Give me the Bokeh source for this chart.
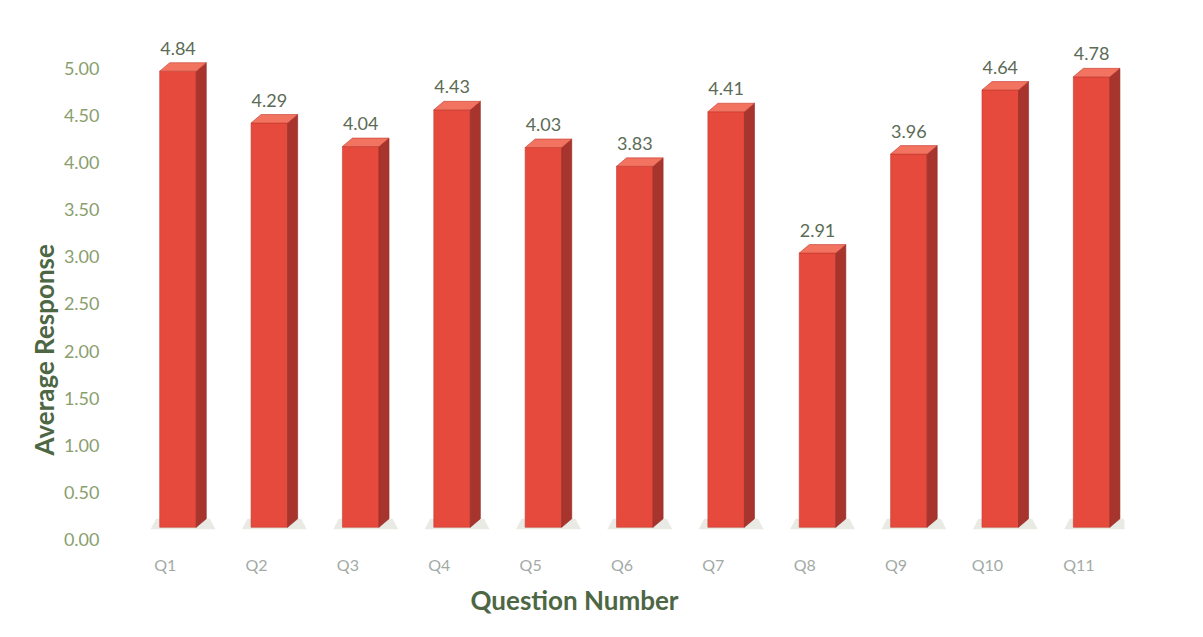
from bokeh.plotting import figure
from bokeh.models import Range1d, FixedTicker, ColumnDataSource, LabelSet, Title
from bokeh.core.properties import value
from bokeh.embed import file_html
from bokeh.resources import INLINE

questions = ["Q1", "Q2", "Q3", "Q4", "Q5", "Q6", "Q7", "Q8", "Q9", "Q10", "Q11"]
averages = [4.84, 4.29, 4.04, 4.43, 4.03, 3.83, 4.41, 2.91, 3.96, 4.64, 4.78]
y_ticks = [0.0, 0.5, 1.0, 1.5, 2.0, 2.5, 3.0, 3.5, 4.0, 4.5, 5.0]
y_tick_labels = ["%.2f" % t for t in y_ticks]

# 3D-look geometry (style constants)
shift = 0.14
half = 0.2
dx = 0.11
dy = 0.09
base = 0.13

pos = [i + 1 for i in range(len(questions))]
cx = [p_ + shift for p_ in pos]
tops = [v + base for v in averages]

p = figure(width=1187, height=621, x_range=Range1d(0.5, 11.5), y_range=Range1d(0, 5.285),
           output_backend="svg", toolbar_location=None,
           min_border_left=119, min_border_right=63, min_border_top=41, min_border_bottom=80)
p.background_fill_color = "white"
p.border_fill_color = "white"
p.outline_line_color = None
p.grid.visible = False

# floor shadows
shadow_xs = [[c - half - 0.1, c + half + dx + 0.1, c + half + dx + 0.04, c - half - 0.04] for c in cx]
shadow_ys = [[base - 0.02, base - 0.02, base + dy, base + dy] for c in cx]
p.patches(shadow_xs, shadow_ys, fill_color="#dcdcd4", fill_alpha=0.6, line_color=None)

# front faces
src = ColumnDataSource(dict(x=cx, top=tops, bottom=[base] * len(cx), v=averages,
                            lx=[c + dx / 2 for c in cx], ly=[t + dy for t in tops],
                            lab=["%.2f" % v for v in averages]))
p.vbar(x="x", top="top", bottom="bottom", width=2 * half, source=src,
       fill_color="#e64a3d", line_color="#c23a30", line_width=0.6)

# side faces
side_xs = [[c + half, c + half + dx, c + half + dx, c + half] for c in cx]
side_ys = [[base, base + dy, t + dy, t] for c, t in zip(cx, tops)]
p.patches(side_xs, side_ys, fill_color="#a8352d", line_color="#8e2a24", line_width=0.6)

# top faces
top_xs = [[c - half, c - half + dx, c + half + dx, c + half] for c in cx]
top_ys = [[t, t + dy, t + dy, t] for t in tops]
p.patches(top_xs, top_ys, fill_color="#f2735f", line_color="#c23a30", line_width=0.6)

labels = LabelSet(x="x", y="ly", text="lab", source=src, text_align="center",
                  text_baseline="bottom", y_offset=8, text_font=value("Lato"),
                  text_font_size=value("18px"), text_color=value("#5b6b55"))
p.add_layout(labels)

# axes
p.yaxis.ticker = FixedTicker(ticks=y_ticks)
p.yaxis.major_label_overrides = {t: l for t, l in zip(y_ticks, y_tick_labels)}
p.yaxis.major_label_text_font = "Lato"
p.yaxis.major_label_text_font_size = "18px"
p.yaxis.major_label_text_color = "#8a9e6e"
p.yaxis.major_label_standoff = 14

p.xaxis.ticker = FixedTicker(ticks=pos)
p.xaxis.major_label_overrides = {i: q for i, q in zip(pos, questions)}
p.xaxis.major_label_text_font = "Lato"
p.xaxis.major_label_text_font_size = "16px"
p.xaxis.major_label_text_color = "#a3aaa6"
p.xaxis.major_label_standoff = 9

for ax in (p.xaxis, p.yaxis):
    ax.axis_line_color = None
    ax.major_tick_line_color = None
    ax.minor_tick_line_color = None

p.add_layout(Title(text="Average Response", align="left", offset=84,
                   text_font="Lato", text_font_style="bold", text_font_size="26px",
                   text_color="#4d6644", standoff=2), "left")

p.add_layout(Title(text="Question Number", align="left", offset=351,
                   text_font="Lato", text_font_style="bold", text_font_size="26px",
                   text_color="#4d6644", standoff=11), "below")

open("out.html", "w").write(file_html(p, INLINE))
